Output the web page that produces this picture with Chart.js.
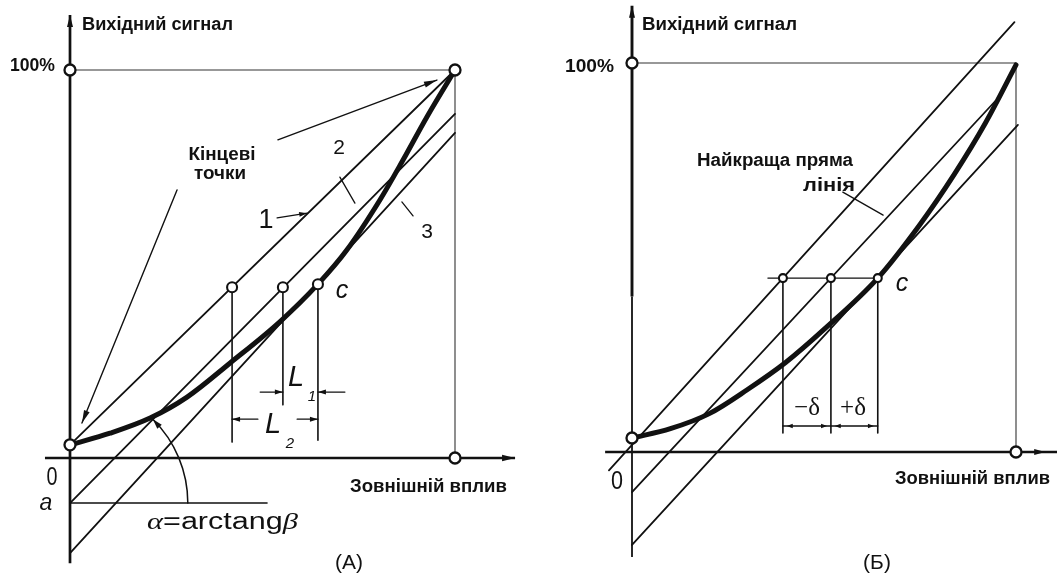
<!DOCTYPE html>
<html>
<head>
<meta charset="utf-8">
<script src="https://cdn.jsdelivr.net/npm/chart.js@4.4.1/dist/chart.umd.min.js"></script>
<style>
  html, body { margin: 0; padding: 0; background: #fff; width: 1057px; height: 575px; overflow: hidden; }
  canvas { position: absolute; top: 0; }
  #chartA { left: 0; }
  #chartB { left: 528px; }
</style>
</head>
<body>
<canvas id="chartA" width="528" height="575"></canvas>
<canvas id="chartB" width="529" height="575"></canvas>
<script>
// Both panels use the same units: external influence (x) and output signal (y), 0..100 %.

// ---------- Panel (А): end-point line, offset line and independent line ----------
const curveInA   = [0, 10.4, 20.8, 30.4, 41.6, 54.5, 64.4, 71.9, 80.5, 86.5, 92.7, 100];
const curveOutA  = [3.4, 6.4, 10.3, 15.7, 24.5, 35.1, 44.8, 53.6, 66.5, 76.8, 87.9, 100];
const line1A     = [[0, 3.4], [100, 100]];      // 1 — through the end points
const line2A     = [[0, -11.6], [100, 88.7]];   // 2 — offset a, slope β
const line3A     = [[0, -24.5], [100, 83.8]];   // 3
const endPointsA = [[0, 100], [100, 100], [0, 3.4], [0, -11.6], [100, 0]];
const markInA    = [42.1, 55.3, 64.4];           // points on lines 1, 2 and c
const markOutA   = [44.0, 44.0, 44.8];
const dropEndA   = [4.1, 13.7, 4.6];             // lower ends of the vertical drop lines
const levelA     = -11.6;                        // a
const l1RowA     = 17.0;                         // L1 dimension row
const l2RowA     = 10.0;                         // L2 dimension row

// ---------- Panel (Б): best straight line ----------
const curveInB   = [0, 10, 20, 30, 40, 50, 64.0, 75.0, 84.0, 92.0, 100];
const curveOutB  = [3.6, 6.0, 9.8, 16.0, 23.0, 31.5, 44.7, 58.5, 71.5, 84.5, 99.5];
const upperLineB = [[-6.0, -4.7], [99.6, 110.5]];
const bestLineB  = [[0, -10.3], [94.5, 90.1]];
const lowerLineB = [[0, -23.9], [100.5, 84.1]];
const endPointsB = [[0, 100], [0, 3.6], [100, 0]];
const markInB    = [39.3, 51.8, 64.0];
const markOutB   = 44.7;
const dropEndB   = 4.9;
const deltaRowB  = 6.7;

const INK = '#111';

function pts(list) { return list.map(([x, y]) => ({ x, y })); }
function zip(xs, ys) { return xs.map((x, i) => ({ x, y: ys[i] })); }

function lineSet(data, width, color) {
  return {
    type: 'line', data, borderColor: color || INK, borderWidth: width,
    pointRadius: 0, fill: false, tension: 0, clip: false, order: 2,
    borderCapStyle: 'round'
  };
}
function curveSet(data, width) {
  return {
    type: 'line', data, borderColor: INK, borderWidth: width,
    pointRadius: 0, fill: false, cubicInterpolationMode: 'monotone',
    clip: false, order: 1, borderCapStyle: 'round', borderJoinStyle: 'round'
  };
}
function circleSet(data, r, bw) {
  return {
    type: 'scatter', data, pointRadius: r, pointBorderWidth: bw,
    pointBackgroundColor: '#fff', pointBorderColor: INK,
    pointHoverRadius: r, showLine: false, clip: false, order: 0
  };
}

// ---- drawing helpers (pixel positions come from the chart scales) ----
function P(chart, u, v) {
  return [chart.scales.x.getPixelForValue(u), chart.scales.y.getPixelForValue(v)];
}
function head(ctx, x0, y0, x1, y1, len, half) {
  const a = Math.atan2(y1 - y0, x1 - x0);
  const c = Math.cos(a), s = Math.sin(a);
  ctx.beginPath();
  ctx.moveTo(x1, y1);
  ctx.lineTo(x1 - len * c + half * s, y1 - len * s - half * c);
  ctx.lineTo(x1 - len * c - half * s, y1 - len * s + half * c);
  ctx.closePath();
  ctx.fill();
}
function arrow(chart, from, to, lw, len, half) {
  const ctx = chart.ctx;
  const [x0, y0] = P(chart, from[0], from[1]);
  const [x1, y1] = P(chart, to[0], to[1]);
  ctx.lineWidth = lw;
  ctx.beginPath(); ctx.moveTo(x0, y0); ctx.lineTo(x1, y1); ctx.stroke();
  if (len) head(ctx, x0, y0, x1, y1, len, half);
}
function text(ctx, s, x, y, font, align, width) {
  ctx.save();
  ctx.font = font;
  ctx.fillStyle = INK;
  ctx.textBaseline = 'middle';
  ctx.textAlign = align || 'left';
  const m = ctx.measureText(s).width;
  ctx.translate(x, y);
  if (width) ctx.scale(width / m, 1);
  ctx.fillText(s, 0, 0);
  ctx.restore();
}
function richText(ctx, parts, x, y, width) {
  ctx.save();
  ctx.fillStyle = INK;
  ctx.textBaseline = 'middle';
  ctx.textAlign = 'left';
  let total = 0;
  parts.forEach(p => { ctx.font = p[1]; total += ctx.measureText(p[0]).width; });
  ctx.translate(x, y);
  ctx.scale(width / total, 1);
  let cx = 0;
  parts.forEach(p => { ctx.font = p[1]; ctx.fillText(p[0], cx, 0); cx += ctx.measureText(p[0]).width; });
  ctx.restore();
}

const SANS_B = 'bold 18px "Liberation Sans", Arial, sans-serif';
const SANS   = '"Liberation Sans", Arial, sans-serif';
const SERIF  = '"Liberation Serif", "Times New Roman", serif';

function baseOptions(padding) {
  return {
    responsive: false, animation: false, events: [],
    layout: { padding },
    scales: {
      x: { type: 'linear', min: 0, max: 100, display: false },
      y: { type: 'linear', min: 0, max: 100, display: false }
    },
    plugins: { legend: { display: false }, tooltip: { enabled: false } }
  };
}

// ===================== Panel (А) =====================
const markersA = zip(markInA, markOutA);
const dropsA = markInA.map((u, i) => lineSet(pts([[u, markOutA[i]], [u, dropEndA[i]]]), 1.6));

new Chart(document.getElementById('chartA'), {
  type: 'scatter',
  data: {
    datasets: [
      circleSet(pts(endPointsA), 5.5, 2.3),
      circleSet(markersA, 5, 2.1),
      curveSet(zip(curveInA, curveOutA), 5),
      lineSet(pts(line1A), 1.8),
      lineSet(pts(line2A), 1.8),
      lineSet(pts(line3A), 1.8),
      lineSet(pts([[0, 100], [100, 100]]), 1.1, '#333'),
      lineSet(pts([[100, 100], [100, 0]]), 1.1, '#333'),
      lineSet(pts([[0, levelA], [51.2, levelA]]), 1.3),
      ...dropsA
    ]
  },
  options: baseOptions({ left: 70, right: 73, top: 70, bottom: 117 }),
  plugins: [{
    id: 'panelA',
    beforeDatasetsDraw(chart) {
      const ctx = chart.ctx;
      ctx.save();
      ctx.strokeStyle = INK; ctx.fillStyle = INK; ctx.lineCap = 'butt';
      // output-signal axis
      arrow(chart, [0, -27.1], [0, 114.2], 2.7, 12, 3);
      // external-influence axis
      arrow(chart, [-6.5, 0], [115.6, 0], 2.3, 13, 3.2);
      ctx.restore();
    },
    afterDatasetsDraw(chart) {
      const ctx = chart.ctx;
      ctx.save();
      ctx.strokeStyle = INK; ctx.fillStyle = INK; ctx.lineCap = 'round';
      // pointers to the end points
      arrow(chart, [27.8, 69.1], [3.1, 9.0], 1.4, 13, 3);
      arrow(chart, [54.0, 82.0], [95.3, 97.4], 1.4, 13, 3);
      // leaders for lines 1, 2, 3
      arrow(chart, [53.8, 61.9], [61.6, 63.1], 1.3, 8, 2.5);
      arrow(chart, [70.1, 72.4], [74.0, 65.7], 1.3);
      arrow(chart, [86.2, 66.0], [89.1, 62.4], 1.3);
      // L1 and L2 dimension arrows
      arrow(chart, [49.4, l1RowA], [55.3, l1RowA], 1.3, 8, 2.5);
      arrow(chart, [71.4, l1RowA], [64.4, l1RowA], 1.3, 8, 2.5);
      arrow(chart, [48.8, l2RowA], [42.1, l2RowA], 1.3, 8, 2.5);
      arrow(chart, [59.0, l2RowA], [64.4, l2RowA], 1.3, 8, 2.5);
      // angle α between the level of a and line 2
      const [cx, cy] = P(chart, 0, levelA);
      const [ex, ey] = P(chart, line2A[1][0], line2A[1][1]);
      const ang = Math.atan2(ey - cy, ex - cx);
      const [rx] = P(chart, 30.6, levelA);
      const r = rx - cx;
      ctx.lineWidth = 1.5;
      ctx.beginPath(); ctx.arc(cx, cy, r, 0, ang, true); ctx.stroke();
      const hx = cx + r * Math.cos(ang), hy = cy + r * Math.sin(ang);
      const px0 = cx + r * Math.cos(ang + 0.12), py0 = cy + r * Math.sin(ang + 0.12);
      head(ctx, px0, py0, hx, hy, 10, 3);
      ctx.restore();

      // labels
      text(ctx, 'Вихідний сигнал', 82, 25, SANS_B, 'left', 151);
      text(ctx, '100%', 10, 66, SANS_B, 'left', 45);
      text(ctx, 'Кінцеві', 222, 155, SANS_B, 'center', 67);
      text(ctx, 'точки', 220, 174, SANS_B, 'center', 52);
      text(ctx, '1', 266, 221, '27px ' + SANS, 'center');
      text(ctx, '2', 339, 148, '21px ' + SANS, 'center');
      text(ctx, '3', 427, 232, '21px ' + SANS, 'center');
      text(ctx, 'c', 342, 291, 'italic 25px ' + SANS, 'center');
      text(ctx, 'L', 288, 378, 'italic 29px ' + SANS, 'left');
      text(ctx, '1', 312, 397, 'italic 15px ' + SANS, 'center');
      text(ctx, 'L', 265, 425, 'italic 29px ' + SANS, 'left');
      text(ctx, '2', 290, 444, 'italic 15px ' + SANS, 'center');
      text(ctx, '0', 52, 478, '25px ' + SANS, 'center', 11);
      text(ctx, 'a', 46, 504, 'italic 23px ' + SANS, 'center');
      richText(ctx, [['α', 'italic 23px ' + SERIF], ['=arctang', '23px ' + SANS], ['β', 'italic 23px ' + SERIF]], 147, 523, 151);
      text(ctx, 'Зовнішній вплив', 350, 487, SANS_B, 'left', 157);
      text(ctx, '(А)', 349, 563, '21px ' + SANS, 'center');
    }
  }]
});

// ===================== Panel (Б) =====================
const markersB = markInB.map(u => ({ x: u, y: markOutB }));
const dropsB = markInB.map(u => lineSet(pts([[u, markOutB], [u, dropEndB]]), 1.6));

new Chart(document.getElementById('chartB'), {
  type: 'scatter',
  data: {
    datasets: [
      circleSet(pts(endPointsB), 5.5, 2.3),
      circleSet(markersB, 4, 2.1),
      curveSet(zip(curveInB, curveOutB), 5),
      lineSet(pts(upperLineB), 1.8),
      lineSet(pts(bestLineB), 1.8),
      lineSet(pts(lowerLineB), 1.8),
      lineSet(pts([[0, 100], [100, 100]]), 1.1, '#333'),
      lineSet(pts([[100, 100], [100, 0]]), 1.1, '#333'),
      lineSet(pts([[35.4, markOutB], [markInB[2], markOutB]]), 1.4),
      lineSet(pts([[markInB[0], deltaRowB], [markInB[2], deltaRowB]]), 1.4),
      ...dropsB
    ]
  },
  options: baseOptions({ left: 104, right: 41, top: 63, bottom: 123 }),
  plugins: [{
    id: 'panelB',
    beforeDatasetsDraw(chart) {
      const ctx = chart.ctx;
      ctx.save();
      ctx.strokeStyle = INK; ctx.fillStyle = INK; ctx.lineCap = 'butt';
      // output-signal axis: heavy upper part, lighter lower part
      arrow(chart, [0, 40], [0, 114.7], 2.9, 12, 3);
      arrow(chart, [0, -27], [0, 40], 1.8);
      // external-influence axis
      arrow(chart, [-7.0, 0], [110.7, 0], 2.3);
      const [ax0, ay] = P(chart, 102, 0);
      const [ax1] = P(chart, 107.6, 0);
      head(ctx, ax0, ay, ax1, ay, 11, 3);
      ctx.restore();
    },
    afterDatasetsDraw(chart) {
      const ctx = chart.ctx;
      ctx.save();
      ctx.strokeStyle = INK; ctx.fillStyle = INK; ctx.lineCap = 'round';
      // leader to the best straight line
      arrow(chart, [54.9, 66.8], [65.4, 60.9], 1.3);
      // small arrow marks on the ±δ dimension line
      const m0 = markInB[0], m1 = markInB[1], m2 = markInB[2];
      [[m0 + 3, m0 + 1], [m1 - 3, m1 - 1], [m1 + 3, m1 + 1], [m2 - 3, m2 - 1]].forEach(([a, b]) => {
        const [x0, y0] = P(chart, a, deltaRowB);
        const [x1, y1] = P(chart, b, deltaRowB);
        head(ctx, x0, y0, x1, y1, 6, 2.2);
      });
      ctx.restore();

      text(ctx, 'Вихідний сигнал', 114, 25, SANS_B, 'left', 155);
      text(ctx, '100%', 37, 67, SANS_B, 'left', 49);
      text(ctx, 'Найкраща пряма', 169, 161, SANS_B, 'left', 156);
      text(ctx, 'лінія', 275, 186, SANS_B, 'left', 52);
      text(ctx, 'c', 374, 284, 'italic 25px ' + SANS, 'center');
      text(ctx, '−δ', 279, 408, '25px ' + SERIF, 'center');
      text(ctx, '+δ', 325, 408, '25px ' + SERIF, 'center');
      text(ctx, '0', 89, 482, '25px ' + SANS, 'center', 12);
      text(ctx, 'Зовнішній вплив', 367, 479, SANS_B, 'left', 155);
      text(ctx, '(Б)', 349, 563, '21px ' + SANS, 'center');
    }
  }]
});
</script>
</body>
</html>
